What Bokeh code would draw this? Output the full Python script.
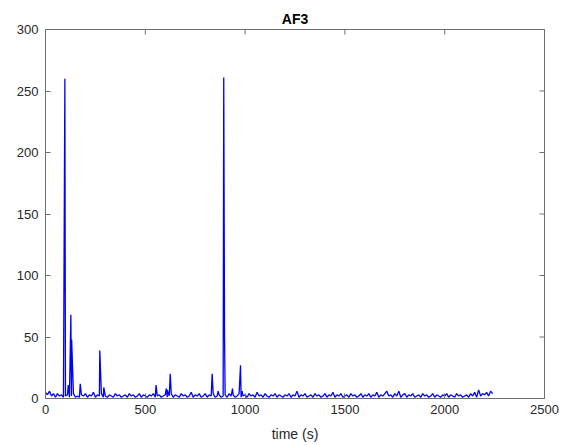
import math
from bokeh.plotting import figure
from bokeh.models import Range1d, LinearAxis, FixedTicker
from bokeh.embed import file_html
from bokeh.resources import INLINE

# ---- data ----
title_text = "AF3"
x_label = "time (s)"
x_ticks = [0, 500, 1000, 1500, 2000, 2500]
y_ticks = [0, 50, 100, 150, 200, 250, 300]
x_min, x_max = 0, 2500
y_min, y_max = 0, 300

# baseline samples every 10 s, t = 0 ... 2240
base_step = 10
base_values = [
    5, 3, 6, 2, 4, 1, 4, 2, 3, 1, 2, 3, 1, 2, 4, 1, 2, 1, 3, 2,
    4, 1, 3, 2, 5, 1, 3, 2, 4, 1, 2, 1, 3, 2, 1, 4, 2, 3, 1, 2,
    3, 1, 4, 2, 3, 1, 2, 4, 1, 3, 2, 1, 3, 2, 4, 1, 2, 3, 1, 2,
    3, 1, 2, 4, 1, 3, 2, 1, 4, 2, 3, 1, 2, 5, 1, 3, 2, 4, 1, 2,
    4, 1, 3, 2, 4, 1, 2, 3, 1, 2, 3, 1, 4, 2, 3, 1, 2, 4, 1, 2,
    3, 1, 4, 2, 3, 1, 5, 2, 3, 1, 4, 2, 1, 3, 2, 4, 1, 3, 2, 1,
    3, 2, 4, 1, 3, 2, 6, 1, 3, 2, 4, 1, 2, 3, 1, 4, 2, 3, 1, 2,
    4, 1, 3, 2, 5, 1, 3, 2, 4, 1, 2, 3, 1, 4, 2, 3, 1, 2, 4, 1,
    3, 2, 4, 1, 3, 2, 5, 1, 3, 2, 4, 6, 2, 3, 1, 4, 2, 6, 1, 3,
    4, 1, 3, 2, 4, 1, 2, 3, 1, 4, 2, 3, 1, 2, 4, 1, 3, 2, 1, 3,
    2, 4, 1, 3, 2, 1, 4, 2, 3, 1, 2, 3, 1, 4, 2, 5, 1, 7, 2, 4,
    3, 5, 2, 6, 4,
]

# spikes (time s, value)
spike_times = [97, 114, 127, 131, 174, 272, 292, 554, 605, 610, 625,
               835, 865, 893, 897, 937, 977, 985]
spike_values = [260, 11, 68, 48, 12, 39, 9, 11, 8, 7, 20,
                20, 6, 261, 51, 8, 27, 6]

# ---- assemble series ----
base_times = [i * base_step for i in range(len(base_values))]
pairs = sorted(list(zip(base_times, base_values)) + list(zip(spike_times, spike_values)))
t = [a for a, _ in pairs]
v = [b for _, b in pairs]

FONT = "Liberation Sans"
AX_COL = "#6e6e6e"
TXT_COL = "#262626"

p = figure(width=576, height=445, output_backend="svg", toolbar_location=None,
           x_range=Range1d(x_min, x_max), y_range=Range1d(y_min, y_max),
           min_border_left=45, min_border_right=32, min_border_top=29,
           min_border_bottom=47, x_axis_location=None, y_axis_location=None)
p.background_fill_color = "white"
p.border_fill_color = "white"
p.outline_line_color = AX_COL
p.outline_line_width = 1
p.xgrid.visible = False
p.ygrid.visible = False

p.title.text = title_text
p.title.align = "center"
p.title.text_font = FONT
p.title.text_font_size = "14px"
p.title.text_font_style = "bold"
p.title.text_color = "black"
p.title.standoff = 6


def style_axis(ax, ticks):
    ax.ticker = FixedTicker(ticks=ticks)
    ax.axis_line_color = AX_COL
    ax.major_tick_line_color = AX_COL
    ax.major_tick_in = 5
    ax.major_tick_out = 0
    ax.minor_tick_line_color = None
    ax.major_label_text_font = FONT
    ax.major_label_text_color = TXT_COL
    ax.major_label_text_font_size = "13px"
    ax.major_label_standoff = 6


xb = LinearAxis()
style_axis(xb, x_ticks)
xb.axis_label = x_label
xb.axis_label_text_font = FONT
xb.axis_label_text_font_size = "14px"
xb.axis_label_text_font_style = "normal"
xb.axis_label_text_color = TXT_COL
xb.axis_label_standoff = 9
p.add_layout(xb, "below")

yl = LinearAxis()
style_axis(yl, y_ticks)
yl.major_label_standoff = 7
p.add_layout(yl, "left")

# inward ticks on the top and right edges (half of each dash is clipped by the frame)
p.scatter(x_ticks, [y_max] * len(x_ticks), marker="dash", size=10, angle=math.pi / 2,
          line_color=AX_COL, line_width=1)
p.scatter([x_max] * len(y_ticks), y_ticks, marker="dash", size=10,
          line_color=AX_COL, line_width=1)

p.line(t, v, line_color="#0000ff", line_width=1.3)

open("out.html", "w").write(file_html(p, INLINE))
